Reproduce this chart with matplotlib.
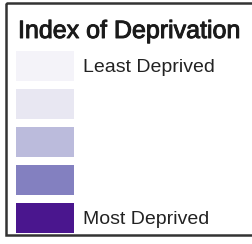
import matplotlib.pyplot as plt
import matplotlib.patheffects as pe
from matplotlib.patches import Rectangle

# legend data
title = "Index of Deprivation"
colors = ["#f4f3f9", "#e8e7f2", "#bbbbdc", "#8380c0", "#4a168e"]
labels = ["Least Deprived", "", "", "", "Most Deprived"]

fig = plt.figure(figsize=(2.52, 2.44), dpi=100)
ax = fig.add_axes([0, 0, 1, 1])
ax.set_xlim(0, 252)
ax.set_ylim(244, 0)
ax.axis("off")

# frame (right side runs off the image)
ax.add_patch(Rectangle((6, 3), 260, 232, fill=False, edgecolor="#333333", lw=1.8))

ax.text(18, 38, title, fontsize=18, color="#1a1a1a", family="Liberation Sans",
        va="baseline", ha="left",
        path_effects=[pe.withStroke(linewidth=0.7, foreground="#1a1a1a")])

rows = [66 + 38 * i for i in range(len(colors))]
ax.barh(rows, [58] * len(colors), left=16, height=30, color=colors)

for y, lab in zip(rows, labels):
    if lab:
        ax.text(83, y + 1, lab, fontsize=14, color="#222222", family="Liberation Sans",
                va="center", ha="left")

fig.savefig("out.png", dpi=100)
